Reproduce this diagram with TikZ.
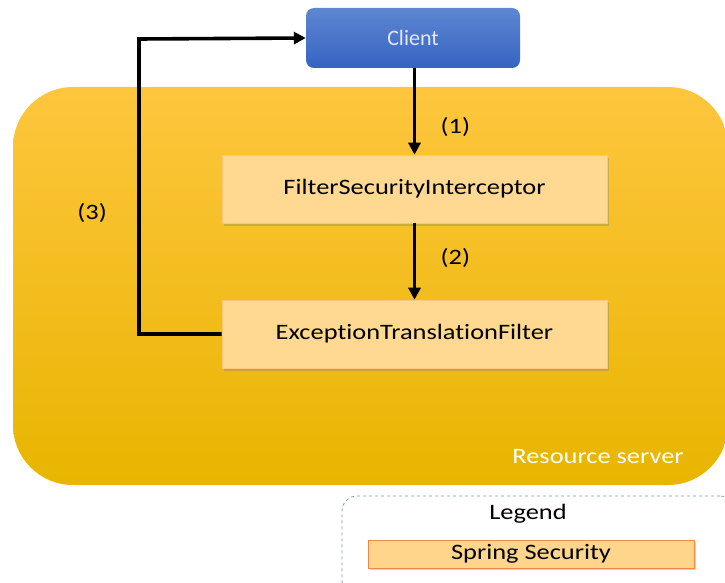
\documentclass[tikz,border=0pt]{standalone}
\usepackage{fontspec}
\setmainfont{Carlito}
\newfontfamily\widefont[FakeStretch=1.2, Ligatures=NoCommon]{Carlito}
\usetikzlibrary{positioning,arrows.meta,shadows}

\definecolor{serverTop}{HTML}{FEC63E}
\definecolor{serverBot}{HTML}{E8B500}
\definecolor{clientTop}{HTML}{5E87D2}
\definecolor{clientBot}{HTML}{3563C1}
\definecolor{filterFill}{HTML}{FFD892}
\definecolor{legendLine}{HTML}{7F9AB8}
\definecolor{legendEdge}{HTML}{F08A4B}

\begin{document}
\begin{tikzpicture}[x=1pt, y=-1pt,
        server/.style={rectangle, rounded corners=60pt, top color=serverTop, bottom color=serverBot, draw=none, minimum width=715pt, minimum height=398pt},
        client/.style={rectangle, rounded corners=8pt, top color=clientTop, bottom color=clientBot, draw=none, minimum width=214pt, minimum height=60pt, text=white!90!blue, font=\fontsize{22}{26}\selectfont},
        filter/.style={rectangle, fill=filterFill, draw=filterFill!80!orange, line width=0.6pt, minimum width=385pt, minimum height=68pt, font=\widefont\fontsize{22}{26}\selectfont, drop shadow={shadow xshift=2pt, shadow yshift=-2.5pt, opacity=0.35}},
        legendbox/.style={rectangle, rounded corners=15pt, draw=legendLine, dashed, line width=0.8pt, minimum width=393pt, minimum height=99pt},
        springbox/.style={rectangle, fill=filterFill!95!orange, draw=legendEdge, line width=1pt, minimum width=326pt, minimum height=28pt, inner sep=0pt, font=\widefont\fontsize{22}{26}\selectfont, drop shadow={shadow xshift=2pt, shadow yshift=-2pt, opacity=0.35}},
        arrow/.style={-{Triangle[length=12pt, width=12pt]}, line width=3.6pt},
        label/.style={font=\widefont\fontsize{22}{26}\selectfont},
      ]
      \useasboundingbox (0,0) rectangle (725,583);
      \node [server] (server) at (370.5,286) {};
      \node [text=white, font=\widefont\fontsize{22}{26}\selectfont] (srvname) at (598,457) {Resource server};
      \node [client] (client) at (413,38) {Client};
      \node [filter] (fsi) at (414.5,189) {FilterSecurityInterceptor};
      \node [filter] (etf) at (414.5,334) {ExceptionTranslationFilter};
      \node [legendbox] (legend) at (538.5,545.5) {};
      \node [label] (legendname) at (528,514) {Legend};
      \node [springbox] (spring) at (531,554) {Spring Security};
      \coordinate (bend) at (139,334);
      \coordinate (top) at (139,39);
      \draw [arrow] (client.south -| fsi.north) -- node [label, right=21pt, pos=0.68] {(1)} (fsi.north);
      \draw [arrow] (fsi.south) -- node [label, right=21pt, pos=0.45] {(2)} (etf.north);
      \draw [arrow] (etf.west) -- (bend) -- node [label, left=27pt, pos=0.41] {(3)} (top) -- (client.west);
    \end{tikzpicture}
\end{document}
